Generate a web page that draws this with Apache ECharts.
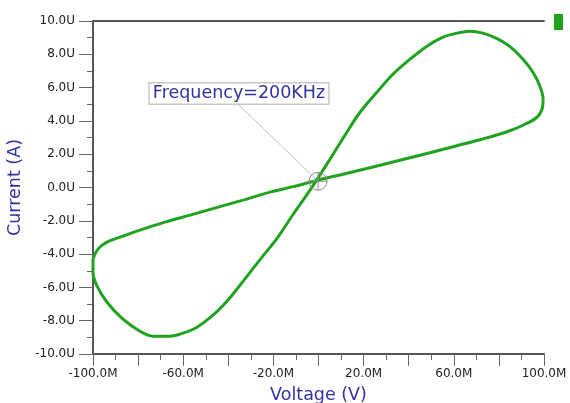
<!DOCTYPE html>
<html>
<head>
<meta charset="utf-8">
<script src="https://cdn.jsdelivr.net/npm/echarts@6/dist/echarts.min.js"></script>
<style>
  html, body { margin: 0; padding: 0; background: #fff; }
  #chart { width: 570px; height: 403px; }
</style>
</head>
<body>
<div id="chart"></div>
<script>
// Hysteresis loop: voltage (mV-scale "M") vs current (µA-scale "U"), one full cycle
const voltage = [-100, -100, -98.2, -93.8, -86.7, -79.2, -73.4, -65.9, -60.1, -53.9, -46.8, -40.6,
  -34.8, -29.0, -23.7, -18.4, -11.3, -5.9, -1.1, 5.1, 10.9, 18.4, 25.9, 33.0, 40.6, 48.1, 55.2, 61.4,
  67.2, 72.9, 79.2, 84.9, 90.7, 95.1, 98.2, 99.6, 99.1, 96.9, 90.7, 83.6, 71.6, 61.4, 49.4, 36.1, 22.8,
  10.9, -1.1, -11.3, -21.5, -33.5, -43.7, -57.0, -68.1, -79.2, -86.7, -93.8, -97.8, -100];
const current = [-4.30, -5.09, -5.93, -6.89, -7.91, -8.63, -8.93, -8.93, -8.75, -8.39, -7.67, -6.83,
  -5.87, -4.86, -3.96, -3.06, -1.62, -0.58, 0.38, 1.70, 2.96, 4.52, 5.72, 6.80, 7.71, 8.49, 9.03, 9.27,
  9.39, 9.27, 8.94, 8.46, 7.71, 6.92, 6.08, 5.30, 4.70, 4.22, 3.74, 3.35, 2.87, 2.51, 2.09, 1.64, 1.19,
  0.80, 0.41, 0.05, -0.28, -0.76, -1.15, -1.66, -2.08, -2.56, -2.92, -3.28, -3.70, -4.30];

// Axis ranges and tick steps
const xRange = [-100, 100];
const xTickStep = 20;
const xLabelStep = 40;
const yRange = [-10, 10];
const yTickStep = 2;

// Marker on the crossing point of the loop, with its callout anchor
const markerPoint = [-0.2, 0.38];
const calloutAnchor = [-36.1, 5.06];
const markerText = 'Frequency=200KHz';

const seriesName = 'I(V)';
const loop = voltage.map((v, i) => [v, current[i]]);

const tickFont = { fontFamily: 'DejaVu Sans', fontSize: 12, color: '#222' };
const nameFont = { fontFamily: 'DejaVu Sans', fontSize: 17.5, color: '#3232a2' };

const chart = echarts.init(document.getElementById('chart'), null, { renderer: 'canvas' });
chart.setOption({
  backgroundColor: '#ffffff',
  animation: false,
  grid: { left: 93, right: 26, top: 21, bottom: 49, outerBoundsMode: 'none' },
  legend: {
    data: [seriesName],
    left: 554, top: 14,
    padding: 0,
    icon: 'rect',
    itemWidth: 9, itemHeight: 16,
    formatter: () => '',
    selectedMode: false
  },
  xAxis: [{
    type: 'value',
    min: xRange[0], max: xRange[1], interval: xTickStep,
    name: 'Voltage (V)',
    nameLocation: 'middle',
    nameGap: 32,
    nameTextStyle: nameFont,
    axisLine: { onZero: false, lineStyle: { color: '#555', width: 2 } },
    axisTick: { length: 12, lineStyle: { color: '#666', width: 1 } },
    minorTick: { show: true, splitNumber: 2, length: 6, lineStyle: { color: '#666', width: 1 } },
    splitLine: { show: false },
    axisLabel: Object.assign({
      margin: 14,
      formatter: v => (((v - xRange[0]) % xLabelStep === 0) ? v.toFixed(1) + 'M' : '')
    }, tickFont)
  }, {
    type: 'value',
    position: 'top',
    min: xRange[0], max: xRange[1],
    axisLine: { show: true, onZero: false, lineStyle: { color: '#555', width: 2 } },
    axisTick: { show: false },
    axisLabel: { show: false },
    splitLine: { show: false }
  }],
  yAxis: {
    type: 'value',
    min: yRange[0], max: yRange[1], interval: yTickStep,
    name: 'Current (A)',
    nameLocation: 'middle',
    nameGap: 62,
    nameTextStyle: nameFont,
    axisLine: { show: true, onZero: false, lineStyle: { color: '#555', width: 2 } },
    axisTick: { show: true, length: 14, lineStyle: { color: '#666', width: 1 } },
    minorTick: { show: true, splitNumber: 2, length: 6, lineStyle: { color: '#666', width: 1 } },
    splitLine: { show: false },
    axisLabel: Object.assign({
      margin: 18,
      formatter: v => v.toFixed(1) + 'U'
    }, tickFont)
  },
  series: [{
    // callout leader from the text box to the marker
    name: 'leader',
    type: 'line',
    data: [calloutAnchor, markerPoint],
    symbol: 'none',
    silent: true,
    lineStyle: { color: '#c4c4c4', width: 1 },
    z: 1
  }, {
    name: seriesName,
    type: 'line',
    data: loop,
    symbol: 'none',
    smooth: 0.35,
    color: '#1fa31f',
    lineStyle: { color: '#1fa31f', width: 3 },
    z: 2
  }, {
    name: 'marker',
    type: 'scatter',
    data: [markerPoint],
    symbol: 'path://M10,0A10,10,0,1,1,10,20A10,10,0,1,1,10,0ZM0,10L20,10M10,0L10,20',
    symbolSize: 18,
    itemStyle: { color: 'rgba(0,0,0,0)', borderColor: '#8a8a8a', borderWidth: 1, opacity: 1 },
    z: 3,
    label: {
      show: true,
      formatter: markerText,
      fontFamily: 'DejaVu Sans',
      fontSize: 17.5,
      lineHeight: 18,
      color: '#3232a2',
      backgroundColor: '#ffffff',
      borderColor: '#c8c8c8',
      borderWidth: 1.5,
      padding: [1, 3, 1, 3]
    },
    labelLayout: { x: 239, y: 93.5, align: 'center', verticalAlign: 'middle' }
  }]
});
</script>
</body>
</html>
